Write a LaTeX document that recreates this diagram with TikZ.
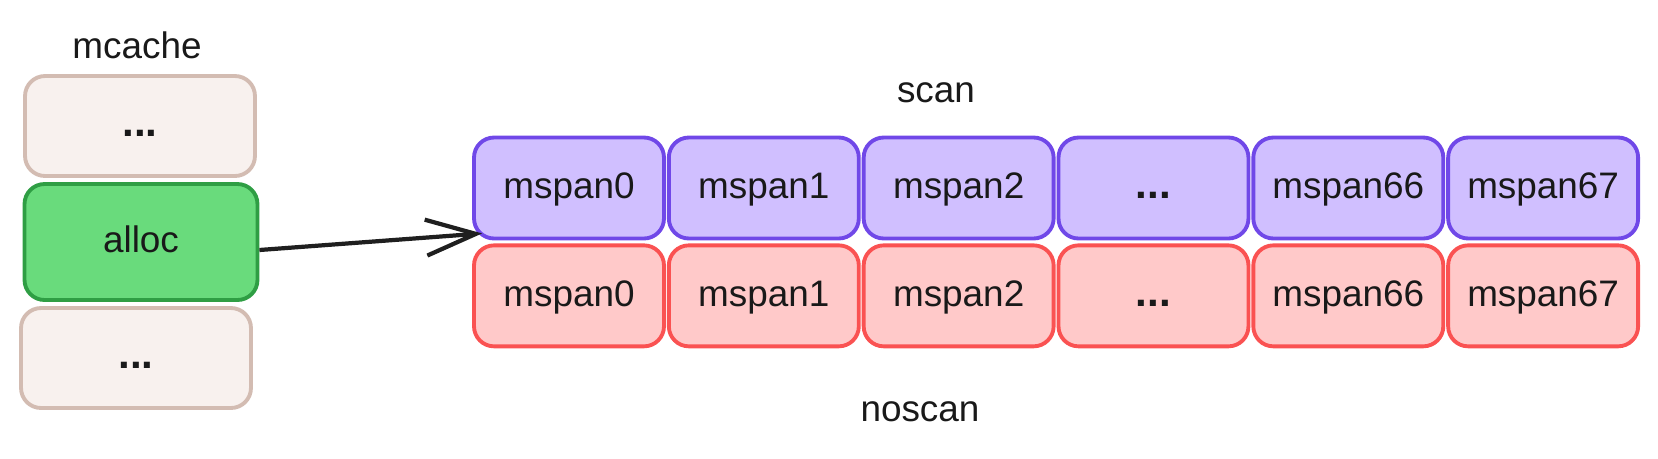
\documentclass[tikz,border=0pt]{standalone}
\usepackage{fontspec}
\setmainfont{Liberation Sans}
\usetikzlibrary{positioning}
\usetikzlibrary{arrows.meta}
\definecolor{cachedraw}{HTML}{D3BCB2}
\definecolor{cachefill}{HTML}{F8F1EE}
\definecolor{allocdraw}{HTML}{2F9E44}
\definecolor{allocfill}{HTML}{69DB7C}
\definecolor{scandraw}{HTML}{7048E8}
\definecolor{scanfill}{HTML}{D0BFFF}
\definecolor{noscandraw}{HTML}{FA5252}
\definecolor{noscanfill}{HTML}{FFC9C9}
\newcommand\ellip{\textbf{\fontsize{24}{24}\selectfont ...}}
\tikzset{
	box/.style = {rectangle, rounded corners=0.4cm, line width=2.2pt,
		align=center, text=black!90, font=\fontsize{21}{25}\selectfont,
		text height=0.6cm, text depth=0.18cm},
	mc_e/.style = {box, draw=cachedraw, fill=cachefill,
		minimum width=4.6cm, minimum height=2cm},% mcache, slot vide
	mc_a/.style = {box, draw=allocdraw, fill=allocfill,
		minimum width=4.66cm, minimum height=2.32cm},% mcache, alloc
	sp_s/.style = {box, draw=scandraw, fill=scanfill,
		minimum width=3.8cm, minimum height=2.02cm},% mspan scan
	sp_n/.style = {box, draw=noscandraw, fill=noscanfill,
		minimum width=3.8cm, minimum height=2.02cm},% mspan noscan
	title/.style = {text=black!90, font=\fontsize{21}{25}\selectfont}
}

\begin{document}
\begin{tikzpicture}[x=0.02cm,y=0.02cm,
		arr/.style={-{Straight Barb[length=1cm,width=0.72cm]},
			line width=2.4pt, black!88}]
	\useasboundingbox (0,0) rectangle (1658,-458);
	% mcache
	\node [mc_e] (c0) at (140,-126) {\ellip};
	\node [mc_a] (alloc) at (141,-242) {alloc};
	\node [mc_e] (c1) at (136,-358) {\ellip};
	\node [title] (mcache) at (137,-45) {mcache};
	% scan
	\node [sp_s] (s0) at (569,-188) {mspan0};
	\node [sp_s, right=0.02cm of s0] (s1) {mspan1};
	\node [sp_s, right=0.02cm of s1] (s2) {mspan2};
	\node [sp_s, right=0.02cm of s2] (s3) {\ellip};
	\node [sp_s, right=0.02cm of s3] (s4) {mspan66};
	\node [sp_s, right=0.02cm of s4] (s5) {mspan67};
	\node [title] (scan) at (936,-93) {scan};
	% noscan
	\node [sp_n, below=0.06cm of s0] (n0) {mspan0};
	\node [sp_n, right=0.02cm of n0] (n1) {mspan1};
	\node [sp_n, right=0.02cm of n1] (n2) {mspan2};
	\node [sp_n, right=0.02cm of n2] (n3) {\ellip};
	\node [sp_n, right=0.02cm of n3] (n4) {mspan66};
	\node [sp_n, right=0.02cm of n4] (n5) {mspan67};
	\node [title] (noscan) at (920,-412) {noscan};
	\draw [arr] ([yshift=-0.16cm]alloc.east) -- ([xshift=0.2cm,yshift=0.14cm]s0.south west);
\end{tikzpicture}
\end{document}
